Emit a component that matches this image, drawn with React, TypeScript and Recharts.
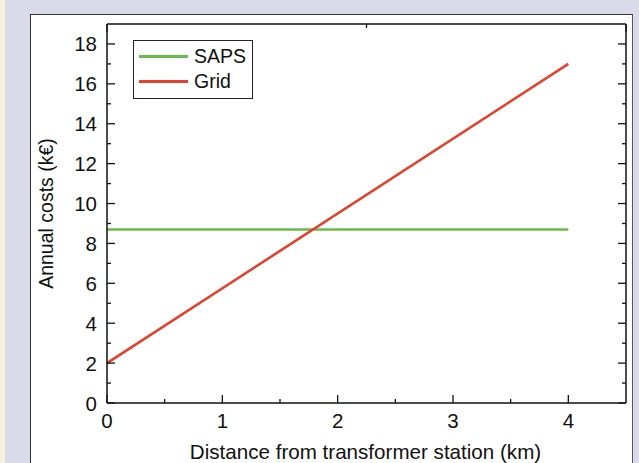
import React from "react";
import { LineChart, Line, XAxis, YAxis, Legend } from "recharts";

// Data
const distances = [0, 4];
const sapsCosts = [8.7, 8.7];
const gridCosts = [2, 17];
const seriesNames = ["SAPS", "Grid"];
const xTicks = [0, 0.5, 1, 1.5, 2, 2.5, 3, 3.5, 4];
const xLabeled = [0, 1, 2, 3, 4];
const yTicks = [0, 1, 2, 3, 4, 5, 6, 7, 8, 9, 10, 11, 12, 13, 14, 15, 16, 17, 18];
const yLabeled = [0, 2, 4, 6, 8, 10, 12, 14, 16, 18];
const xTitle = "Distance from transformer station (km)";
const yTitle = "Annual costs (k€)";

const data = distances.map((d, i) => ({ x: d, saps: sapsCosts[i], grid: gridCosts[i] }));

const FONT = "'Liberation Sans', Arial, Helvetica, sans-serif";
const GREEN = "#67bd4b";
const RED = "#e4412d";
const AXIS = "#111";

const MAJOR = 8;
const MINOR = 4;
const TICK_FS = 20.5;

const BottomTick = (props: any) => {
  const { x, y, payload } = props;
  const major = xLabeled.includes(payload.value);
  return (
    <g>
      <line x1={x} y1={y} x2={x} y2={y - (major ? MAJOR : MINOR)} stroke={AXIS} strokeWidth={1.3} />
      {major && (
        <text x={x} y={y + 25} textAnchor="middle" fontFamily={FONT} fontSize={TICK_FS} fill="#111">
          {payload.value}
        </text>
      )}
    </g>
  );
};

const TopTick = (props: any) => {
  const { x, y, payload } = props;
  const major = xLabeled.includes(payload.value);
  return <line x1={x} y1={y} x2={x} y2={y + (major ? MAJOR : MINOR)} stroke={AXIS} strokeWidth={1.3} />;
};

const LeftTick = (props: any) => {
  const { x, y, payload } = props;
  const major = yLabeled.includes(payload.value);
  return (
    <g>
      <line x1={x} y1={y} x2={x + (major ? MAJOR : MINOR)} y2={y} stroke={AXIS} strokeWidth={1.3} />
      {major && (
        <text x={x - 10} y={y + 7.5} textAnchor="end" fontFamily={FONT} fontSize={TICK_FS} fill="#111">
          {payload.value}
        </text>
      )}
    </g>
  );
};

const RightTick = (props: any) => {
  const { x, y, payload } = props;
  const major = yLabeled.includes(payload.value);
  return <line x1={x} y1={y} x2={x - (major ? MAJOR : MINOR)} y2={y} stroke={AXIS} strokeWidth={1.3} />;
};

const LegendBox = () => {
  const colors = [GREEN, RED];
  return (
    <div
      style={{
        border: "1.3px solid #222",
        width: 120,
        height: 59,
        boxSizing: "border-box",
        background: "#fff",
        paddingTop: 3,
        fontFamily: FONT,
        fontSize: 19.5,
        color: "#111",
      }}
    >
      {seriesNames.map((n, i) => (
        <div key={n} style={{ display: "flex", alignItems: "center", height: 25, lineHeight: "25px" }}>
          <div style={{ width: 49, height: 3, background: colors[i], marginLeft: 5, marginRight: 6 }} />
          <span>{n}</span>
        </div>
      ))}
    </div>
  );
};

export default function App() {
  return (
    <div style={{ position: "fixed", left: 0, top: 0, width: 639, height: 463, background: "#d9dbeb", overflow: "hidden" }}>
      <div style={{ position: "absolute", left: 0, top: 0, width: 5, height: 463, background: "#f4f3dc" }} />
      <div
        style={{
          position: "absolute",
          left: 30,
          top: 14,
          width: 603,
          height: 470,
          background: "#fff",
          borderLeft: "1.5px solid #333",
          borderTop: "1.5px solid #333",
          borderRight: "1.5px solid #555",
          boxSizing: "border-box",
        }}
      />
      <div style={{ position: "absolute", left: 0, top: 0 }}>
        <LineChart width={639} height={463} data={data} margin={{ top: 14, right: 3, bottom: 30, left: 47 }}>
          <XAxis
            dataKey="x"
            type="number"
            domain={[0, 4.5]}
            allowDataOverflow
            ticks={xTicks}
            interval={0}
            height={30}
            tickSize={0}
            tickMargin={0}
            tickLine={false}
            axisLine={{ stroke: AXIS, strokeWidth: 1.5 }}
            tick={<BottomTick />}
            label={{
              content: (p: any) => {
                const vb = p.viewBox || {};
                return (
                  <text x={vb.x + vb.width / 2 - 1} y={459} textAnchor="middle" fontFamily={FONT} fontSize={20.6} fill="#111">
                    {xTitle}
                  </text>
                );
              },
            }}
          />
          <XAxis
            xAxisId="top"
            orientation="top"
            type="number"
            domain={[0, 4.5]}
            allowDataOverflow
            ticks={xTicks}
            interval={0}
            height={10}
            tickSize={0}
            tickMargin={0}
            tickLine={false}
            axisLine={{ stroke: AXIS, strokeWidth: 1.5 }}
            tick={<TopTick />}
          />
          <YAxis
            type="number"
            domain={[0, 19]}
            allowDataOverflow
            ticks={yTicks}
            interval={0}
            width={60}
            tickSize={0}
            tickMargin={0}
            tickLine={false}
            axisLine={{ stroke: AXIS, strokeWidth: 1.5 }}
            tick={<LeftTick />}
            label={{
              content: (p: any) => {
                const vb = p.viewBox || {};
                const cx = 53;
                const cy = vb.y + vb.height / 2;
                return (
                  <text x={cx} y={cy} transform={`rotate(-90, ${cx}, ${cy})`} textAnchor="middle" fontFamily={FONT} fontSize={19.5} fill="#111">
                    {yTitle}
                  </text>
                );
              },
            }}
          />
          <YAxis
            yAxisId="right"
            orientation="right"
            type="number"
            domain={[0, 19]}
            allowDataOverflow
            ticks={yTicks}
            interval={0}
            width={10}
            tickSize={0}
            tickMargin={0}
            tickLine={false}
            axisLine={{ stroke: AXIS, strokeWidth: 1.5 }}
            tick={<RightTick />}
          />
          <Legend
            layout="horizontal"
            verticalAlign="middle"
            align="center"
            content={<LegendBox />}
            wrapperStyle={{ position: "absolute", left: 133, top: 40, width: "auto", height: "auto" }}
          />
          <Line
            type="linear"
            dataKey="saps"
            name={seriesNames[0]}
            stroke={GREEN}
            strokeWidth={2.6}
            dot={false}
            isAnimationActive={false}
          />
          <Line
            type="linear"
            dataKey="grid"
            name={seriesNames[1]}
            stroke={RED}
            strokeWidth={2.6}
            dot={false}
            isAnimationActive={false}
          />
        </LineChart>
      </div>
    </div>
  );
}
